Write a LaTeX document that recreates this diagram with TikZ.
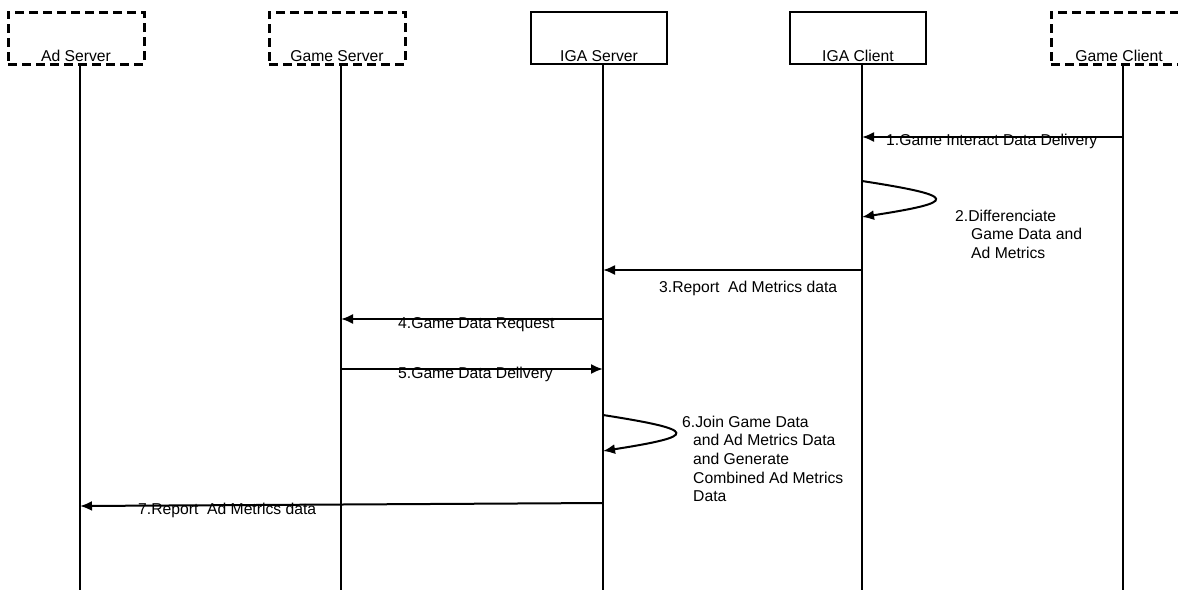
\documentclass[tikz,border=0pt]{standalone}
\usepackage{fontspec}
\setmainfont{Liberation Sans}
\usetikzlibrary{arrows.meta,positioning,calc}

\begin{document}
\begin{tikzpicture}[
  x=1pt,y=-1pt,
  font=\fontsize{15.7}{18.7}\selectfont,
  actor/.style={draw=black,line width=2.5pt,minimum width=136pt,inner sep=0pt,text height=49pt,text depth=3pt},
  extactor/.style={actor,line width=3pt,dash pattern=on 9pt off 5pt},
  life/.style={line width=2pt},
  msg/.style={-{Latex[length=12pt,width=10pt]},line width=2pt},
  lbl/.style={inner sep=0pt,anchor=base west},
  note/.style={inner sep=0pt,anchor=north west,align=left}
]
\useasboundingbox (0,0) rectangle (1178,590);
% heads
\node[extactor] (ads) at (76,38)   {Ad Server};
\node[extactor] (gms) at (337,38)  {Game Server};
\node[actor]    (igs) at (599,38)  {IGA Server};
\node[actor]    (igc) at (858,38)  {IGA Client};
\node[extactor] (gmc) at (1119,38) {Game Client};
% lifelines
\coordinate (adsEnd) at (80,590);
\coordinate (gmsEnd) at (341,590);
\coordinate (igsEnd) at (603,590);
\coordinate (igcEnd) at (862,590);
\coordinate (gmcEnd) at (1123,590);
\draw[life] (adsEnd |- ads.south) -- (adsEnd);
\draw[life] (gmsEnd |- gms.south) -- (gmsEnd);
\draw[life] (igsEnd |- igs.south) -- (igsEnd);
\draw[life] (igcEnd |- igc.south) -- (igcEnd);
\draw[life] (gmcEnd |- gmc.south) -- (gmcEnd);
% messages
\coordinate (m1s) at (gmcEnd |- 0,137);
\coordinate (m1e) at (igcEnd |- 0,137);
\draw[msg] (m1s) -- (m1e);
\node[lbl] (l1) at (886,145) {1.Game Interact Data Delivery};

\coordinate (m2s) at (igcEnd |- 0,181);
\coordinate (m2e) at (igcEnd |- 0,217);
\draw[msg] (m2s) .. controls (959,196) and (959,202) .. (m2e);
\node[note] (l2) at (955,209.5) {2.Differenciate\\\hspace*{16pt}Game Data and\\\hspace*{16pt}Ad Metrics};

\coordinate (m3s) at (igcEnd |- 0,270);
\coordinate (m3e) at (igsEnd |- 0,270);
\draw[msg] (m3s) -- (m3e);
\node[lbl] (l3) at (659,292) {3.Report\ \ Ad Metrics data};

\coordinate (m4s) at (igsEnd |- 0,319);
\coordinate (m4e) at (gmsEnd |- 0,319);
\draw[msg] (m4s) -- (m4e);
\node[lbl] (l4) at (398,328) {4.Game Data Request};

\coordinate (m5s) at (gmsEnd |- 0,369);
\coordinate (m5e) at (igsEnd |- 0,369);
\draw[msg] (m5s) -- (m5e);
\node[lbl] (l5) at (398,378) {5.Game Data Delivery};

\coordinate (m6s) at (igsEnd |- 0,415);
\coordinate (m6e) at (igsEnd |- 0,451);
\draw[msg] (m6s) .. controls (699,430) and (699,436) .. (m6e);
\node[note] (l6) at (682,415.5) {6.Join Game Data\\\hspace*{11pt}and Ad Metrics Data\\\hspace*{11pt}and Generate\\\hspace*{11pt}Combined Ad Metrics\\\hspace*{11pt}Data};

\coordinate (m7s) at (igsEnd |- 0,503);
\coordinate (m7e) at (adsEnd |- 0,506);
\draw[msg] (m7s) -- (m7e);
\node[lbl] (l7) at (138,514) {7.Report\ \ Ad Metrics data};
\end{tikzpicture}
\end{document}
